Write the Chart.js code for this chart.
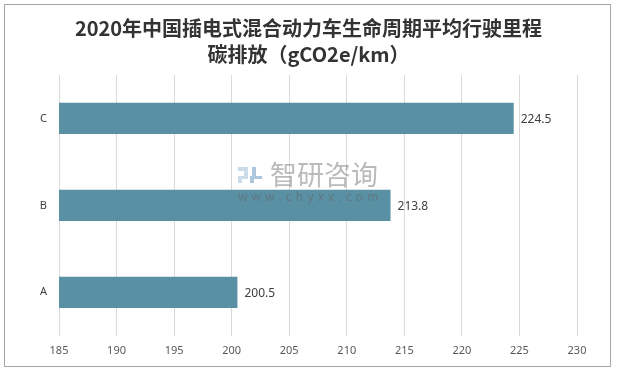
<!DOCTYPE html>
<html>
<head>
<meta charset="utf-8">
<script src="https://cdn.jsdelivr.net/npm/chart.js@4"></script>
<style>
  html, body { margin: 0; padding: 0; background: #fff; }
  #wrap { width: 617px; height: 370px; position: relative; }
</style>
</head>
<body>
<div id="wrap"><canvas id="chart"></canvas></div>
<script>
// values
const categories = ["A", "B", "C"];
const values = [200.5, 213.8, 224.5];
const titleLines = ["2020年中国插电式混合动力车生命周期平均行驶里程", "碳排放（gCO2e/km）"];
const xMin = 185, xMax = 230, xStep = 5;

const frame = {
  id: "frame",
  beforeDraw(chart) {
    const ctx = chart.ctx;
    ctx.save();
    ctx.fillStyle = "#fff";
    ctx.fillRect(0, 0, chart.width, chart.height);
    ctx.strokeStyle = "#a6a6a6";
    ctx.lineWidth = 1;
    ctx.strokeRect(4.5, 4.5, 606, 362);
    ctx.restore();
  }
};

const valueLabels = {
  id: "valueLabels",
  afterDatasetsDraw(chart) {
    const ctx = chart.ctx;
    ctx.save();
    // watermark (logo + text)
    ctx.fillStyle = "rgba(170,195,220,0.6)";
    ctx.fillRect(238, 167, 10, 4);
    ctx.fillRect(244, 171, 4, 5);
    ctx.fillRect(238, 176, 10, 3);
    ctx.fillRect(238, 179, 4, 4);
    ctx.fillStyle = "rgba(120,160,200,0.6)";
    ctx.fillRect(252, 167, 4, 9);
    ctx.fillRect(250, 176, 12, 3);
    ctx.fillRect(250, 179, 4, 4);
    ctx.textAlign = "left";
    ctx.textBaseline = "middle";
    ctx.fillStyle = "rgba(130,130,130,0.55)";
    ctx.font = "27px 'Noto Sans CJK SC'";
    ctx.fillText("智研咨询", 270, 175);
    ctx.font = "12px 'Noto Sans'";
    ctx.letterSpacing = "0.5px";
    ctx.fillStyle = "rgba(100,110,115,0.7)";
    ctx.fillText("w w w . c h y x x . c o m", 238, 198);
    ctx.letterSpacing = "0px";

    ctx.fillStyle = "#404040";
    ctx.font = "12px 'Noto Sans'";
    chart.getDatasetMeta(0).data.forEach((bar, i) => {
      ctx.fillText(String(values[i]), bar.x + 7, bar.y + 1);
    });
    ctx.restore();
  }
};

new Chart(document.getElementById("chart"), {
  type: "bar",
  data: {
    labels: categories,
    datasets: [{
      data: values,
      backgroundColor: "#5a90a4",
      categoryPercentage: 0.6,
      barPercentage: 0.6
    }]
  },
  options: {
    indexAxis: "y",
    responsive: true,
    maintainAspectRatio: false,
    animation: false,
    layout: { padding: { left: 40, right: 40, top: 0, bottom: 5 } },
    plugins: {
      legend: { display: false },
      tooltip: { enabled: false },
      title: {
        display: true,
        text: titleLines,
        color: "#333333",
        font: { family: "'Noto Sans CJK SC', sans-serif", size: 20, weight: "bold", lineHeight: 1.3 },
        padding: { top: 15, bottom: 8 }
      }
    },
    scales: {
      x: {
        min: xMin,
        max: xMax,
        border: { display: false },
        grid: { color: "#d9d9d9", drawTicks: false },
        ticks: {
          stepSize: xStep,
          padding: 8,
          color: "#595959",
          font: { family: "'Noto Sans'", size: 11 }
        }
      },
      y: {
        reverse: true,
        border: { display: false },
        grid: { display: false, drawTicks: false },
        ticks: {
          padding: 12,
          color: "#404040",
          font: { family: "'Noto Sans'", size: 11 }
        },
        afterFit(scale) { scale.width = 19; }
      }
    }
  },
  plugins: [frame, valueLabels]
});
</script>
</body>
</html>
